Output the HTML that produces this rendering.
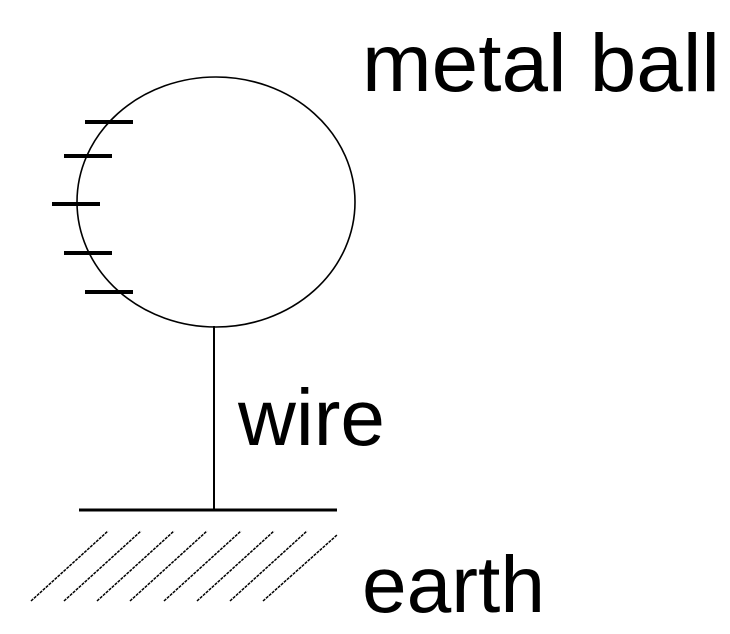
<!DOCTYPE html>
<html><head><style>html,body{margin:0;padding:0;background:#fff;}svg{display:block;}</style></head>
<body>
<svg width="730" height="634" viewBox="0 0 730 634" xmlns="http://www.w3.org/2000/svg">
<rect width="730" height="634" fill="#fff"/>
<ellipse cx="216" cy="202" rx="139" ry="125" fill="none" stroke="#000" stroke-width="1.6"/>
<g stroke="#000" stroke-width="4">
<line x1="85" y1="122" x2="133" y2="122"/>
<line x1="64" y1="156" x2="112" y2="156"/>
<line x1="52" y1="204" x2="100" y2="204"/>
<line x1="64" y1="253" x2="112" y2="253"/>
<line x1="85" y1="292" x2="133" y2="292"/>
</g>
<line x1="214" y1="326" x2="214" y2="510" stroke="#000" stroke-width="2"/>
<line x1="79" y1="510" x2="337" y2="510" stroke="#000" stroke-width="3"/>
<g stroke="#000" stroke-width="1.5" stroke-dasharray="3,1">
<line x1="31" y1="601" x2="108" y2="531"/>
<line x1="64" y1="601" x2="141" y2="531"/>
<line x1="97" y1="601" x2="174" y2="531"/>
<line x1="130" y1="601" x2="207" y2="531"/>
<line x1="164" y1="601" x2="241" y2="531"/>
<line x1="197" y1="601" x2="274" y2="531"/>
<line x1="230" y1="601" x2="307" y2="531"/>
<line x1="263" y1="601" x2="337" y2="535"/>
</g>
<g font-family="Liberation Sans, Arial, sans-serif" fill="#000">
<text x="362" y="91" font-size="82" textLength="358" lengthAdjust="spacingAndGlyphs">metal ball</text>
<text x="238" y="445" font-size="80" textLength="147" lengthAdjust="spacingAndGlyphs">wire</text>
<text x="362" y="612" font-size="80" textLength="183" lengthAdjust="spacingAndGlyphs">earth</text>
</g>
</svg>
</body></html>
